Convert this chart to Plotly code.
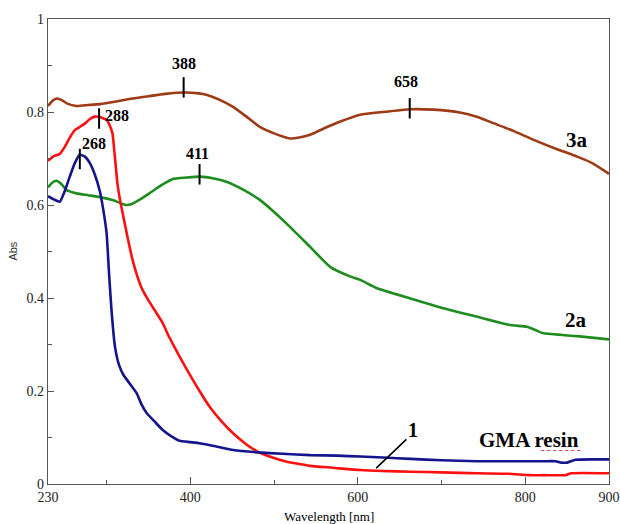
import plotly.graph_objects as go

# ---- data ----
gma_x = [230, 237, 244, 250, 256, 262, 268, 274, 280, 286, 292, 296, 300, 303, 306, 310, 315, 320, 328, 336,
         342, 348, 357, 367, 377, 387, 400, 411, 430, 451, 480, 510, 543, 575, 603, 630, 663, 700, 742, 780,
         822, 836, 843, 850, 860, 880, 900]
gma_y = [0.619, 0.612, 0.607, 0.630, 0.661, 0.690, 0.708, 0.704, 0.690, 0.665, 0.629, 0.590, 0.539, 0.45, 0.37,
         0.295, 0.255, 0.235, 0.215, 0.195, 0.170, 0.152, 0.135, 0.116, 0.103, 0.093, 0.090, 0.0875, 0.081, 0.073,
         0.068, 0.065, 0.062, 0.061, 0.059, 0.057, 0.054, 0.051, 0.049, 0.049, 0.049, 0.049, 0.046, 0.046, 0.052,
         0.053, 0.053]

s1_x = [230, 237, 244, 250, 256, 262, 268, 274, 280, 286, 292, 296, 300, 304, 307, 309, 311, 313, 316, 320,
        324, 331, 337, 343, 350, 358, 367, 375, 383, 393, 403, 413, 423, 437, 451, 467, 483, 500, 515, 530,
        543, 570, 603, 630, 663, 700, 742, 780, 805, 822, 848, 855, 900]
s1_y = [0.695, 0.705, 0.710, 0.725, 0.745, 0.761, 0.768, 0.775, 0.785, 0.790, 0.789, 0.786, 0.783, 0.770,
        0.754, 0.72, 0.682, 0.645, 0.611, 0.575, 0.539, 0.482, 0.445, 0.417, 0.395, 0.372, 0.346, 0.315, 0.288,
        0.255, 0.224, 0.194, 0.166, 0.135, 0.109, 0.085, 0.067, 0.056, 0.048, 0.043, 0.039, 0.035, 0.030, 0.028,
        0.0265, 0.025, 0.023, 0.022, 0.019, 0.019, 0.019, 0.023, 0.023]

s2a_x = [230, 235, 240, 246, 252, 258, 264, 278, 292, 308, 323, 330, 340, 351, 365, 379, 395, 411, 428, 443,
         463, 483, 500, 519, 543, 567, 590, 603, 623, 663, 702, 742, 782, 802, 812, 822, 862, 900]
s2a_y = [0.638, 0.648, 0.652, 0.645, 0.632, 0.628, 0.625, 0.621, 0.617, 0.610, 0.600, 0.602, 0.612, 0.625,
         0.642, 0.656, 0.659, 0.661, 0.657, 0.650, 0.633, 0.611, 0.585, 0.553, 0.510, 0.467, 0.447, 0.439, 0.421,
         0.399, 0.378, 0.360, 0.342, 0.338, 0.331, 0.324, 0.318, 0.311]

s3a_x = [230, 236, 241, 247, 253, 264, 278, 292, 310, 331, 350, 370, 393, 410, 419, 435, 451, 467, 483, 500,
         519, 530, 543, 560, 580, 603, 630, 663, 690, 722, 742, 762, 785, 810, 835, 862, 880, 900]
s3a_y = [0.813, 0.825, 0.829, 0.825, 0.818, 0.813, 0.815, 0.817, 0.822, 0.829, 0.834, 0.839, 0.842, 0.840,
         0.837, 0.826, 0.811, 0.790, 0.768, 0.754, 0.743, 0.745, 0.751, 0.765, 0.780, 0.794, 0.800, 0.806, 0.805,
         0.799, 0.790, 0.776, 0.760, 0.740, 0.722, 0.704, 0.690, 0.667]

peak_labels = ["268", "288", "388", "411", "658"]
peak_x = [268, 291, 392, 411, 662]
peak_y = [0.699, 0.786, 0.853, 0.666, 0.808]

x_tickvals = [230, 400, 600, 800, 900]
x_ticktext = ["230", "400", "600", "800", "900"]
y_tickvals = [0, 0.2, 0.4, 0.6, 0.8, 1]
y_ticktext = ["0", "0.2", "0.4", "0.6", "0.8", "1"]

SERIF = "Liberation Serif"

fig = go.Figure()
for xs, ys, col, name in [
    (s3a_x, s3a_y, "#9E3A14", "3a"),
    (s2a_x, s2a_y, "#1E8C1E", "2a"),
    (s1_x, s1_y, "#FF1010", "1"),
    (gma_x, gma_y, "#14148C", "GMA resin"),
]:
    fig.add_trace(go.Scatter(x=xs, y=ys, mode="lines", name=name,
                             line=dict(color=col, width=2.6, shape="spline", smoothing=0.5),
                             showlegend=False))

shapes = []
annotations = []
for lab, px, py in zip(peak_labels, peak_x, peak_y):
    shapes.append(dict(type="line", xref="x", yref="y", x0=px, x1=px, y0=py - 0.022, y1=py + 0.022,
                       line=dict(color="black", width=2)))

label_pos = {"268": (285, 0.733), "288": (312, 0.792), "388": (392, 0.905),
             "411": (409, 0.711), "658": (657, 0.865)}
for lab in peak_labels:
    lx, ly = label_pos[lab]
    annotations.append(dict(x=lx, y=ly, xref="x", yref="y", text="<b>%s</b>" % lab, showarrow=False,
                            font=dict(family=SERIF, size=16, color="black")))

for txt, lx, ly, sz in [("3a", 862, 0.740, 21), ("2a", 860, 0.353, 21), ("1", 666, 0.116, 20),
                        ("GMA resin", 804, 0.095, 21)]:
    annotations.append(dict(x=lx, y=ly, xref="x", yref="y", text="<b>%s</b>" % txt, showarrow=False,
                            font=dict(family=SERIF, size=sz, color="black")))

# pointer for curve 1
shapes.append(dict(type="line", xref="x", yref="y", x0=622, y0=0.034, x1=658, y1=0.096,
                   line=dict(color="black", width=1.6)))
# spell-check underline under "resin"
shapes.append(dict(type="line", xref="x", yref="y", x0=819, y0=0.072, x1=868, y1=0.072,
                   line=dict(color="#E04040", width=1, dash="dot")))

annotations.append(dict(x=0.5, y=-0.069, xref="paper", yref="paper", text="Wavelength [nm]",
                        showarrow=False, font=dict(family=SERIF, size=13, color="black"), yanchor="middle"))
annotations.append(dict(x=-0.064, y=0.5, xref="paper", yref="paper", text="Abs", textangle=-90,
                        showarrow=False, font=dict(family="Liberation Sans", size=11, color="#333"),
                        xanchor="center"))

fig.update_layout(
    width=620, height=524,
    margin=dict(l=48, r=11, t=19, b=40),
    paper_bgcolor="white", plot_bgcolor="white",
    shapes=shapes, annotations=annotations,
    xaxis=dict(range=[230, 900], tickvals=x_tickvals, ticktext=x_ticktext, ticks="inside", ticklen=7,
               tickcolor="#555", showline=True, linecolor="#555", linewidth=1.2, mirror=True,
               showgrid=False, zeroline=False, automargin=False,
               tickfont=dict(family=SERIF, size=14, color="#222"),
               minor=dict(tickvals=[300, 500, 700], ticks="inside", ticklen=4, tickcolor="#555")),
    yaxis=dict(range=[0, 1], tickvals=y_tickvals, ticktext=y_ticktext, ticks="inside", ticklen=6,
               tickcolor="#555", showline=True, linecolor="#555", linewidth=1.2, mirror=True,
               showgrid=False, zeroline=False, automargin=False,
               tickfont=dict(family=SERIF, size=14, color="#222"),
               minor=dict(tickvals=[0.1, 0.3, 0.5, 0.7, 0.9], ticks="inside", ticklen=4, tickcolor="#555")),
)

fig.write_html("out.html", config={"displayModeBar": False},
               post_script="document.body.style.margin='0';document.body.style.overflow='hidden';")
